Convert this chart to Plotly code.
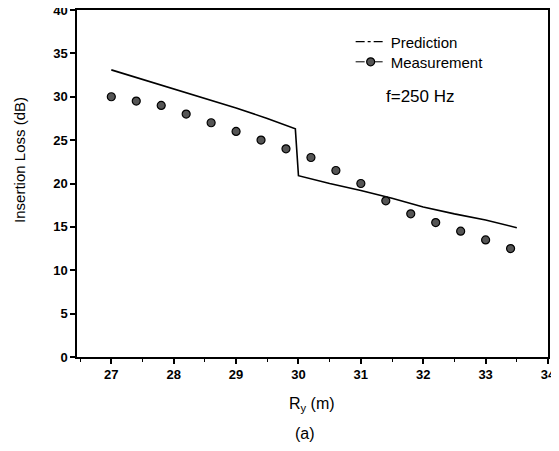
import plotly.graph_objects as go

# Measurement data
meas_x = [27.0, 27.4, 27.8, 28.2, 28.6, 29.0, 29.4, 29.8, 30.2, 30.6, 31.0, 31.4, 31.8, 32.2, 32.6, 33.0, 33.4]
meas_y = [30.0, 29.5, 29.0, 28.0, 27.0, 26.0, 25.0, 24.0, 23.0, 21.5, 20.0, 18.0, 16.5, 15.5, 14.5, 13.5, 12.5]

# Prediction data
pred_x = [27.0, 27.5, 28.0, 28.5, 29.0, 29.5, 29.95, 30.0, 30.5, 31.0, 31.5, 32.0, 32.5, 33.0, 33.5]
pred_y = [33.1, 32.0, 30.9, 29.8, 28.7, 27.5, 26.3, 20.9, 20.0, 19.2, 18.3, 17.3, 16.5, 15.8, 14.9]

x_ticks = [27, 28, 29, 30, 31, 32, 33, 34]
y_ticks = [0, 5, 10, 15, 20, 25, 30, 35, 40]

FONT = "Liberation Sans, Arial, sans-serif"

fig = go.Figure()
fig.add_trace(go.Scatter(x=pred_x, y=pred_y, mode="lines",
                         line=dict(color="black", width=1.6),
                         showlegend=False, hoverinfo="skip"))
fig.add_trace(go.Scatter(x=meas_x, y=meas_y, mode="markers",
                         marker=dict(symbol="circle", size=8, color="#555555",
                                     line=dict(color="black", width=1.2)),
                         showlegend=False))
# legend entries (each in its own legend box for exact spacing)
fig.add_trace(go.Scatter(x=[None], y=[None], mode="lines", name="Prediction",
                         legend="legend",
                         line=dict(color="black", width=1.2, dash="dashdot")))
fig.add_trace(go.Scatter(x=[None], y=[None], mode="lines+markers", name="Measurement",
                         legend="legend2",
                         line=dict(color="black", width=1.0, dash="dash"),
                         marker=dict(symbol="circle", size=8, color="#555555",
                                     line=dict(color="black", width=1.2))))

axis_common = dict(ticks="outside", ticklen=5, tickwidth=1.5, tickcolor="black",
                   showline=True, linecolor="black", linewidth=1.5, mirror=True,
                   showgrid=False, zeroline=False, ticklabeloverflow="allow",
                   automargin=False,
                   tickfont=dict(size=13, family=FONT, weight="bold"))

legend_common = dict(xanchor="left", yanchor="middle", bgcolor="rgba(0,0,0,0)",
                     font=dict(size=15, family=FONT), itemwidth=30)

fig.update_layout(
    width=551, height=435,
    margin=dict(l=69, r=11, t=2, b=86),
    paper_bgcolor="white", plot_bgcolor="white",
    font=dict(family=FONT, color="black", size=13),
    legend=dict(x=0.581, y=0.908, **legend_common),
    legend2=dict(x=0.581, y=0.850, **legend_common),
    xaxis=dict(range=[26.45, 34], tickvals=x_ticks,
               minor=dict(dtick=0.5, ticks="outside", ticklen=3, tickcolor="black", tickwidth=1),
               **axis_common),
    yaxis=dict(range=[0, 40], tickvals=y_ticks, **axis_common),
    annotations=[
        dict(text="Insertion Loss (dB)", xref="paper", yref="paper", x=-0.121, y=0.568,
             xanchor="center", yanchor="middle", showarrow=False, textangle=-90,
             font=dict(size=15, family=FONT)),
        dict(text="R<sub>y</sub> (m)", xref="paper", yref="paper", x=0.499, y=-0.138,
             xanchor="center", yanchor="middle", showarrow=False, font=dict(size=16, family=FONT)),
        dict(text="(a)", xref="paper", yref="paper", x=0.484, y=-0.2219,
             xanchor="center", yanchor="middle", showarrow=False, font=dict(size=16, family=FONT)),
        dict(text="f=250 Hz", x=31.95, y=30.0, xref="x", yref="y",
             showarrow=False, font=dict(size=17, family=FONT)),
    ],
)

fig.write_html("out.html")
